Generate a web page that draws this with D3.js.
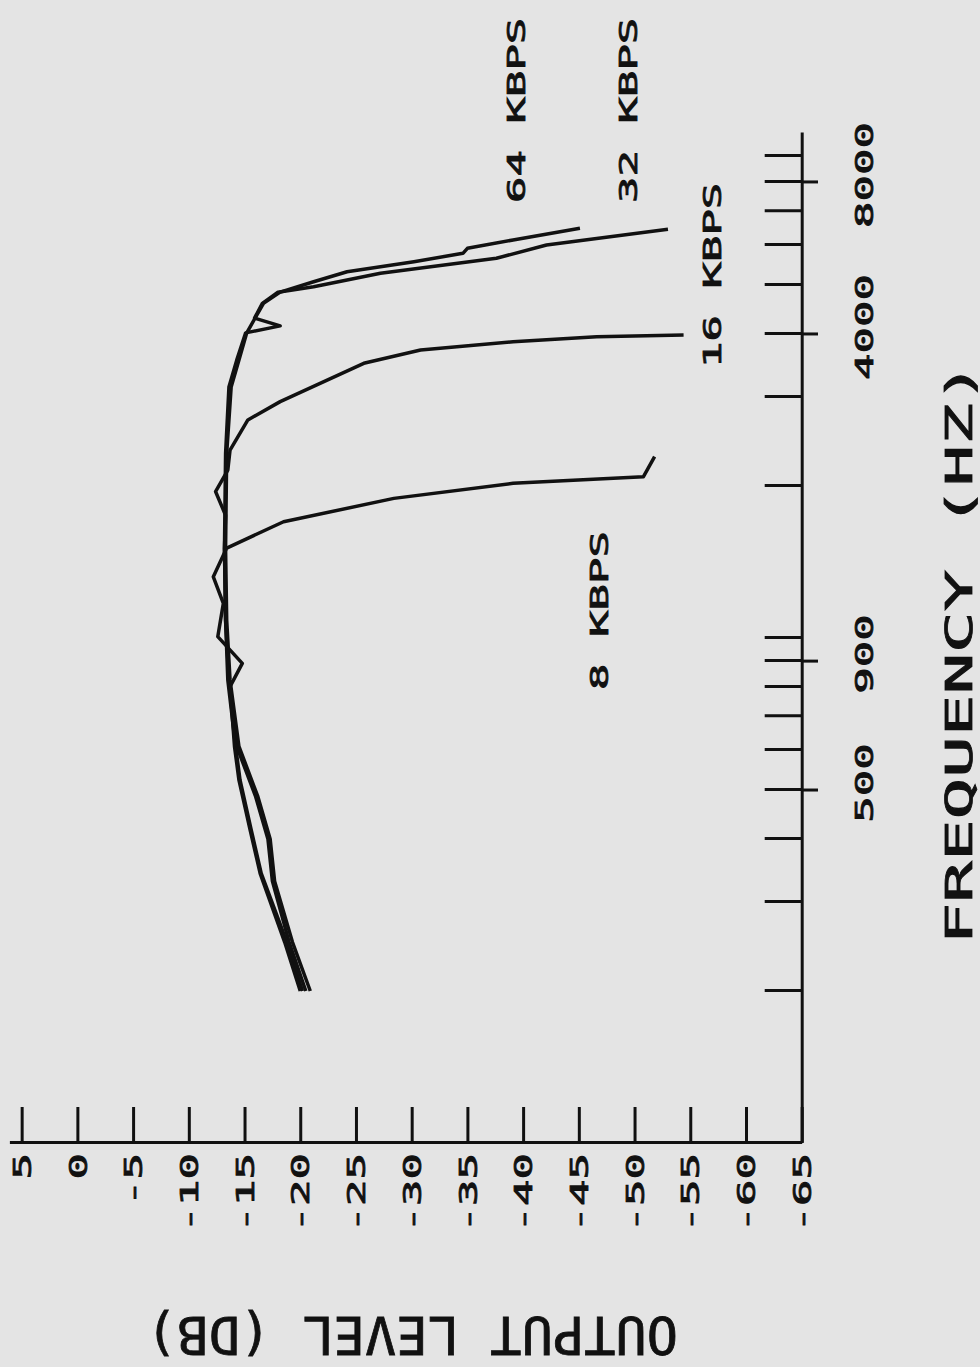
<!DOCTYPE html>
<html>
<head>
<meta charset="utf-8">
<script src="https://cdn.jsdelivr.net/npm/d3@7"></script>
<style>
html, body { margin: 0; padding: 0; background: #e4e4e4; }
svg { display: block; }
text { font-family: "DejaVu Sans Mono", monospace; fill: #111; }
</style>
</head>
<body>
<svg id="chart" width="980" height="1367"></svg>
<script>
// Frequency axis ticks (Hz), log scale
var freqTicks = [200, 300, 400, 500, 600, 700, 800, 900,
                 1000, 2000, 3000, 4000, 5000, 6000, 7000, 8000, 9000];
var freqMajor = [500, 900, 4000, 8000];
var freqLabels = ['500', '900', '4000', '8000'];

// Output level ticks (dB)
var dbTicks = [5, 0, -5, -10, -15, -20, -25, -30, -35, -40, -45, -50, -55, -60, -65];

// Series: [frequency Hz, output level dB]
var kbps64 = [[200,-20.9],[250,-19.3],[330,-17.7],[400,-17.3],[485,-16.2],[610,-14.5],
  [826,-13.7],[1085,-13.4],[1500,-13.3],[2320,-13.4],[3140,-13.8],[3550,-14.5],
  [4020,-15.2],[4600,-16.7],[4840,-18.2],[5076,-21.2],[5313,-24.2],[5561,-30.2],
  [5778,-34.6],[5911,-35.0],[6140,-39.1],[6477,-45.1]];

var kbps32 = [[200,-20.5],[250,-19.0],[330,-17.5],[400,-17.1],[485,-16.0],[610,-14.3],
  [826,-13.6],[1085,-13.3],[1500,-13.2],[2320,-13.3],[3140,-13.6],[3550,-14.3],
  [4020,-15.1],[4150,-18.2],[4300,-15.9],[4600,-16.6],[4840,-18.0],[4962,-21.2],
  [5275,-27.2],[5648,-37.6],[6001,-42.1],[6447,-53.0]];

var kbps16 = [[200,-20.2],[250,-18.8],[342,-16.5],[417,-15.6],[523,-14.6],[610,-14.2],
  [826,-13.5],[1085,-13.3],[1500,-13.2],[1750,-13.3],[1950,-12.4],[2150,-13.5],
  [2355,-13.7],[2703,-15.3],[2938,-18.2],[3499,-25.7],[3718,-30.8],[3861,-39.1],
  [3951,-46.6],[3981,-54.4]];

var kbps8 = [[200,-20.0],[250,-18.6],[342,-16.4],[417,-15.5],[523,-14.5],[610,-14.1],
  [801,-13.7],[891,-14.8],[1006,-12.6],[1171,-13.1],[1322,-12.2],[1507,-13.4],
  [1699,-18.5],[1890,-28.4],[2025,-39.1],[2087,-50.8],[2286,-51.8]];

var seriesNames = ['64 KBPS', '32 KBPS', '16 KBPS', '8 KBPS'];
var seriesData = [kbps64, kbps32, kbps16, kbps8];
// where each series label starts, in data units [Hz, dB]
var labelAt = [[7268,-39.4], [7268,-49.4], [3425,-57.0], [789,-46.8]];

var W = 980, H = 1367;
var svg = d3.select('#chart');
svg.append('rect').attr('width', W).attr('height', H).attr('fill', '#e4e4e4');

// the whole plot is drawn upright and then turned a quarter turn to the left
var g = svg.append('g').attr('transform', 'translate(0,' + H + ') rotate(-90)');

var x = d3.scaleLog().domain([100, 10000]).range([224, 1234]);
var y = d3.scaleLinear().domain([-65, 6.1]).range([801.7, 9.4]);

// stretched plotter-like text
function label(parent, px, py, str, size, sx, anchor, rot) {
  var t = parent.append('g')
    .attr('transform', 'translate(' + px + ',' + py + ')' + (rot ? ' rotate(' + rot + ')' : ''))
    .append('text')
    .attr('transform', 'scale(' + sx + ',1)')
    .attr('text-anchor', anchor)
    .attr('dominant-baseline', 'central')
    .style('font-size', size + 'px')
    .style('stroke', '#111')
    .style('stroke-width', 0.8)
    .text(str);
  return t;
}

// dB axis
var yAxis = g.append('g')
  .attr('transform', 'translate(224,0)')
  .attr('font-size', null).attr('font-family', null)
  .call(d3.axisLeft(y).tickValues(dbTicks).tickSizeInner(-36).tickSizeOuter(0)
    .tickPadding(10).tickFormat(function(d) { return String(d); }));
yAxis.selectAll('path, line').attr('stroke', '#111').attr('stroke-width', 3);
yAxis.selectAll('text')
  .attr('x', null).attr('dy', null)
  .attr('transform', 'translate(-10,0) scale(1.76,1)')
  .attr('dominant-baseline', 'central')
  .style('font-size', '25px')
  .style('stroke', '#111').style('stroke-width', 0.8);

// frequency axis
var xAxis = g.append('g')
  .attr('transform', 'translate(0,801.7)')
  .call(d3.axisBottom(x).tickValues(freqTicks).tickSizeInner(-37).tickSizeOuter(0).tickFormat(''));
xAxis.selectAll('path, line').attr('stroke', '#111').attr('stroke-width', 3);

g.selectAll('.major').data(freqMajor).enter()
  .append('line')
  .attr('class', 'major')
  .attr('x1', function(d) { return x(d); })
  .attr('x2', function(d) { return x(d); })
  .attr('y1', 801.7)
  .attr('y2', 818)
  .attr('stroke', '#111')
  .attr('stroke-width', 3);

freqMajor.forEach(function(f, i) {
  label(g, x(f) + 7, 864, freqLabels[i], 25, 1.76, 'middle');
});

// curves
var line = d3.line()
  .x(function(d) { return x(d[0]); })
  .y(function(d) { return y(d[1]); });

g.selectAll('.curve').data(seriesData).enter()
  .append('path')
  .attr('class', 'curve')
  .attr('d', line)
  .attr('fill', 'none')
  .attr('stroke', '#111')
  .attr('stroke-width', 3.5)
  .attr('stroke-linejoin', 'round');

seriesNames.forEach(function(name, i) {
  label(g, x(labelAt[i][0]), y(labelAt[i][1]), name, 25, 1.76, 'start');
});

// axis titles
label(g, 714, 959, 'FREQUENCY (HZ)', 38, 1.82, 'middle');
label(g, 32, 412, 'OUTPUT LEVEL (DB)', 52, 1.0, 'middle', -90);
</script>
</body>
</html>
